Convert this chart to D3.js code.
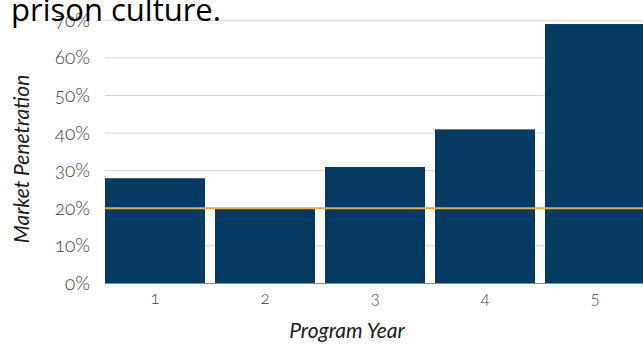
<!DOCTYPE html>
<html>
<head>
<meta charset="utf-8">
<script src="https://cdn.jsdelivr.net/npm/d3@7"></script>
<style>
  body { margin: 0; background: #fff; overflow: hidden; }
  svg { display: block; }
  .tick text { font-family: Lato, "Noto Sans", sans-serif; font-weight: 300; font-variant-numeric: oldstyle-nums; font-feature-settings: "onum" 1; }
</style>
</head>
<body>
<svg width="643" height="345"></svg>
<script>
const years = ['1', '2', '3', '4', '5'];
const penetration = [0.28, 0.20, 0.31, 0.41, 0.69];
const target = 0.20;
const yTicks = [0, 0.1, 0.2, 0.3, 0.4, 0.5, 0.6, 0.7];

const svg = d3.select('svg');

const x = d3.scaleBand()
  .domain(years)
  .range([100, 650])
  .paddingInner(10 / 110)
  .paddingOuter(5 / 110);

const y = d3.scaleLinear()
  .domain([0, 0.7])
  .range([283.5, 20.3]);

// gridlines
svg.append('g')
  .selectAll('line')
  .data(yTicks.slice(1))
  .enter().append('line')
  .attr('x1', 105)
  .attr('x2', 643)
  .attr('y1', d => y(d))
  .attr('y2', d => y(d))
  .attr('stroke', '#d4d4d4')
  .attr('stroke-width', 1);

// bars
svg.append('g')
  .selectAll('rect')
  .data(penetration)
  .enter().append('rect')
  .attr('x', (d, i) => x(years[i]))
  .attr('width', x.bandwidth())
  .attr('y', d => y(d))
  .attr('height', d => y(0) - y(d))
  .attr('fill', '#053a62');

// baseline
svg.append('line')
  .attr('x1', 105)
  .attr('x2', 643)
  .attr('y1', y(0))
  .attr('y2', y(0))
  .attr('stroke', '#8c8c8c')
  .attr('stroke-width', 1);

// target line
svg.append('line')
  .attr('x1', 105)
  .attr('x2', 643)
  .attr('y1', y(target))
  .attr('y2', y(target))
  .attr('stroke', '#e2b33a')
  .attr('stroke-width', 2);

// y axis
const yAxis = svg.append('g')
  .attr('transform', 'translate(93,0)')
  .call(d3.axisLeft(y).tickValues(yTicks).tickFormat(d3.format('.0%')).tickSize(0).tickPadding(3));
yAxis.select('.domain').remove();
yAxis.selectAll('text')
  .attr('fill', '#404040')
  .style('font-size', '19px');

// x axis
const xAxis = svg.append('g')
  .attr('transform', `translate(0,${y(0)})`)
  .call(d3.axisBottom(x).tickSize(0).tickPadding(8));
xAxis.select('.domain').remove();
xAxis.selectAll('text')
  .attr('fill', '#404040')
  .style('font-size', '17px');

// axis titles
svg.append('text')
  .attr('x', 347)
  .attr('y', 338)
  .attr('text-anchor', 'middle')
  .style('font-family', 'Lato, "Noto Sans", sans-serif')
  .style('font-style', 'italic')
  .style('font-size', '21px')
  .attr('fill', '#1a1a1a')
  .text('Program Year');

svg.append('text')
  .attr('transform', 'translate(29,159) rotate(-90)')
  .attr('text-anchor', 'middle')
  .style('font-family', 'Lato, "Noto Sans", sans-serif')
  .style('font-style', 'italic')
  .style('font-size', '21px')
  .attr('fill', '#1a1a1a')
  .text('Market Penetration');

// title (cut off at the top)
svg.append('text')
  .attr('x', 11)
  .attr('y', 21)
  .style('font-family', '"Open Sans", "Noto Sans", sans-serif')
  .style('font-size', '31px')
  .attr('fill', '#000')
  .text('prison culture.');
</script>
</body>
</html>
